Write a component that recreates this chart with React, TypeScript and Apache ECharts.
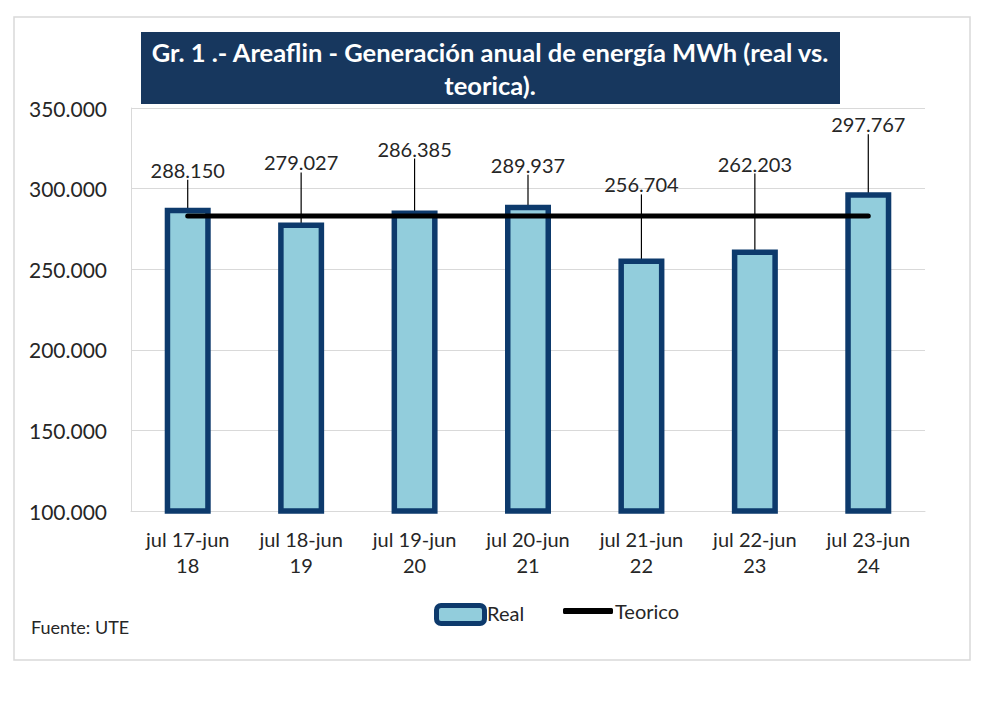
import React, { useEffect, useRef } from "react";
import * as echarts from "echarts";

const categories = [
  "jul 17-jun\n18",
  "jul 18-jun\n19",
  "jul 19-jun\n20",
  "jul 20-jun\n21",
  "jul 21-jun\n22",
  "jul 22-jun\n23",
  "jul 23-jun\n24",
];
const realValues = [288150, 279027, 286385, 289937, 256704, 262203, 297767];
const teoricoValues = [283000, 283000, 283000, 283000, 283000, 283000, 283000];
const yMin = 100000;
const yMax = 350000;
const yInterval = 50000;
const titleText = "Gr. 1 .- Areaflin - Generación anual de energía MWh (real vs.\nteorica).";
const sourceText = "Fuente: UTE";
const realName = "Real";
const teoricoName = "Teorico";

// layout: how far each data label is lifted above its bar (px)
const LABEL_LIFT = [23, 45, 47, 25, 59, 71, 53];

const fmt = (v: number) => {
  const s = Math.round(v).toString();
  return s.replace(/\B(?=(\d{3})+(?!\d))/g, ".");
};

const FONT = "Lato, 'Open Sans', sans-serif";
const NAVY = "#0d3a6c";

export default function App() {
  const ref = useRef<HTMLDivElement>(null);
  useEffect(() => {
    if (!ref.current) return;
    const chart = echarts.init(ref.current, undefined, { renderer: "svg" });
    chart.setOption({
      animation: false,
      backgroundColor: "#ffffff",
      textStyle: { fontFamily: FONT },
      graphic: [
        {
          type: "rect",
          z: -10,
          shape: { x: 14, y: 17, width: 956, height: 643 },
          style: { fill: "#ffffff", stroke: "#d9d9d9", lineWidth: 1.5 },
        },
        {
          type: "rect",
          z: 10,
          shape: { x: 141, y: 32, width: 699, height: 72 },
          style: { fill: "#17375e" },
        },
        {
          type: "text",
          z: 11,
          x: 490,
          y: 68,
          style: {
            text: titleText,
            fill: "#ffffff",
            font: `bold 25.5px ${FONT}`,
            align: "center",
            verticalAlign: "middle",
            lineHeight: 33,
          },
        },
        {
          type: "text",
          x: 31,
          y: 627,
          style: {
            text: sourceText,
            fill: "#262626",
            font: `18px ${FONT}`,
            align: "left",
            verticalAlign: "middle",
          },
        },
        {
          type: "text",
          x: 487,
          y: 613,
          style: {
            text: realName,
            fill: "#262626",
            font: `20px ${FONT}`,
            align: "left",
            verticalAlign: "middle",
          },
        },
      ],
      legend: [
        {
          left: 429,
          top: 598,
          itemWidth: 48,
          itemHeight: 18,
          icon: "roundRect",
          formatter: () => "",
          textStyle: { fontSize: 20, color: "#262626", fontFamily: FONT },
          itemStyle: { color: "#92cddc", borderColor: NAVY, borderWidth: 5 },
          data: [realName],
        },
        {
          left: 558,
          top: 596,
          itemWidth: 50,
          itemHeight: 6,
          icon: "roundRect",
          textStyle: { fontSize: 20, color: "#262626", fontFamily: FONT, padding: [0, 0, 0, -3] },
          itemStyle: { color: "#000000", borderWidth: 0 },
          lineStyle: { width: 0 },
          data: [teoricoName],
        },
      ],
      grid: { left: 131, right: 75, top: 108, bottom: 202, containLabel: false },
      xAxis: {
        type: "category",
        data: categories,
        axisLine: { show: true, lineStyle: { color: "#d9d9d9", width: 1 } },
        axisTick: { show: false },
        axisLabel: {
          interval: 0,
          color: "#262626",
          fontSize: 20,
          lineHeight: 26,
          margin: 15,
          fontFamily: FONT,
        },
      },
      yAxis: {
        type: "value",
        min: yMin,
        max: yMax,
        interval: yInterval,
        axisLine: { show: true, lineStyle: { color: "#d9d9d9", width: 1 } },
        axisTick: { show: false },
        splitLine: { show: true, lineStyle: { color: "#d9d9d9", width: 1 } },
        axisLabel: {
          color: "#262626",
          fontSize: 21,
          margin: 24,
          fontFamily: FONT,
          formatter: (v: number) => fmt(v),
        },
      },
      series: [
        {
          name: realName,
          type: "bar",
          data: realValues,
          barWidth: 46,
          itemStyle: { color: "#92cddc", borderColor: NAVY, borderWidth: 5.5 },
          label: {
            show: true,
            position: "top",
            distance: 5,
            color: "#262626",
            fontSize: 20,
            fontFamily: FONT,
            formatter: (p: any) => fmt(p.value),
          },
          labelLayout: (params: any) => ({ dy: -LABEL_LIFT[params.dataIndex] }),
          labelLine: { show: true, lineStyle: { color: "#000000", width: 1.2 } },
          z: 2,
        },
        {
          name: teoricoName,
          type: "line",
          data: teoricoValues,
          symbol: "none",
          lineStyle: { color: "#000000", width: 5, cap: "round" },
          itemStyle: { color: "#000000" },
          z: 3,
        },
      ],
    });
    return () => chart.dispose();
  }, []);
  return (
    <div
      ref={ref}
      style={{ position: "fixed", left: 0, top: 0, width: 1000, height: 713 }}
    />
  );
}
